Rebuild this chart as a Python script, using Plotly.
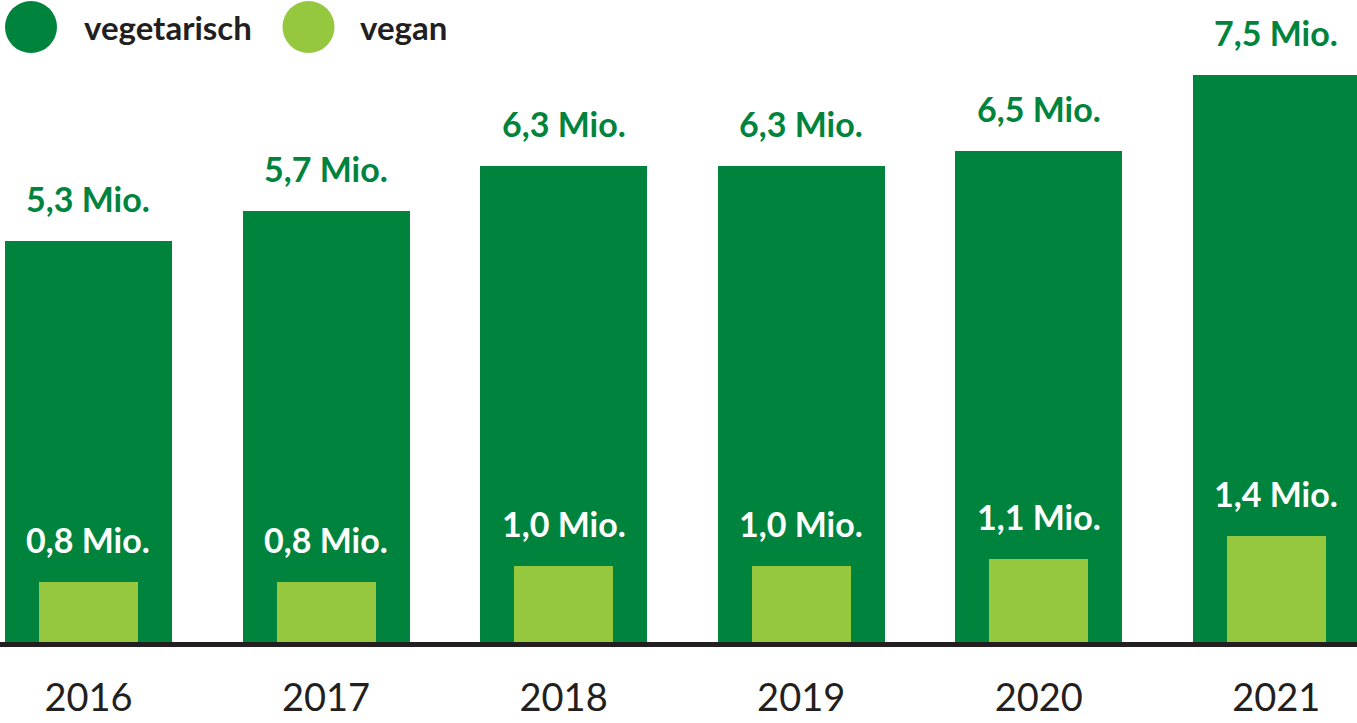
import plotly.graph_objects as go

years = ["2016", "2017", "2018", "2019", "2020", "2021"]
vegetarisch = [5.3, 5.7, 6.3, 6.3, 6.5, 7.5]
vegan = [0.8, 0.8, 1.0, 1.0, 1.1, 1.4]
veg_labels = ["5,3 Mio.", "5,7 Mio.", "6,3 Mio.", "6,3 Mio.", "6,5 Mio.", "7,5 Mio."]
vegan_labels = ["0,8 Mio.", "0,8 Mio.", "1,0 Mio.", "1,0 Mio.", "1,1 Mio.", "1,4 Mio."]

DARK = "#00843D"
LIGHT = "#95C73F"
INK = "#231F20"
FONT = "Lato"

fig = go.Figure()
fig.add_trace(go.Bar(x=years, y=vegetarisch, width=0.703, marker_color=DARK,
                     marker_line_width=0, name="vegetarisch", hoverinfo="skip"))
fig.add_trace(go.Bar(x=years, y=vegan, width=0.417, marker_color=LIGHT,
                     marker_line_width=0, name="vegan", hoverinfo="skip"))

annotations = []
for i, (v, t) in enumerate(zip(vegetarisch, veg_labels)):
    annotations.append(dict(x=i, y=v, xref="x", yref="y", text=t, showarrow=False, yanchor="bottom",
                            yshift=20, font=dict(family=FONT, size=34, color=DARK, weight="bold")))
for i, (v, t) in enumerate(zip(vegan, vegan_labels)):
    annotations.append(dict(x=i, y=v, xref="x", yref="y", text=t, showarrow=False, yanchor="bottom",
                            yshift=20, font=dict(family=FONT, size=34, color="white", weight="bold")))

# legend
legend_items = [("vegetarisch", DARK, 31, 82), ("vegan", LIGHT, 308.5, 358)]
shapes = []
W = 1357
for name, col, cx, tx in legend_items:
    shapes.append(dict(type="circle", xref="paper", yref="paper", xsizemode="pixel", ysizemode="pixel",
                       xanchor=cx / W, yanchor=(642 - 27) / 642, x0=-26, x1=26, y0=-26, y1=26,
                       fillcolor=col, line_width=0))
    annotations.append(dict(xref="paper", yref="paper", x=tx / W, y=(642 - 27) / 642, text=name,
                            showarrow=False, xanchor="left", yanchor="middle",
                            font=dict(family=FONT, size=33, color=INK, weight="bold")))

fig.update_layout(
    width=1357, height=723,
    margin=dict(l=0, r=0, t=0, b=81),
    barmode="overlay",
    bargap=0,
    showlegend=False,
    plot_bgcolor="white", paper_bgcolor="white",
    annotations=annotations, shapes=shapes,
    xaxis=dict(type="category", range=[-0.3725, 5.3397], showgrid=False, zeroline=False,
               showline=True, linecolor=INK, linewidth=5, ticks="", ticklabelstandoff=18,
               tickfont=dict(family=FONT, size=38, color=INK)),
    yaxis=dict(range=[0, 642 / 75.6], visible=False, showgrid=False, zeroline=False),
)

fig.write_html("out.html", config={"displayModeBar": False},
               post_script="document.body.style.margin='0';document.body.style.overflow='hidden';")
